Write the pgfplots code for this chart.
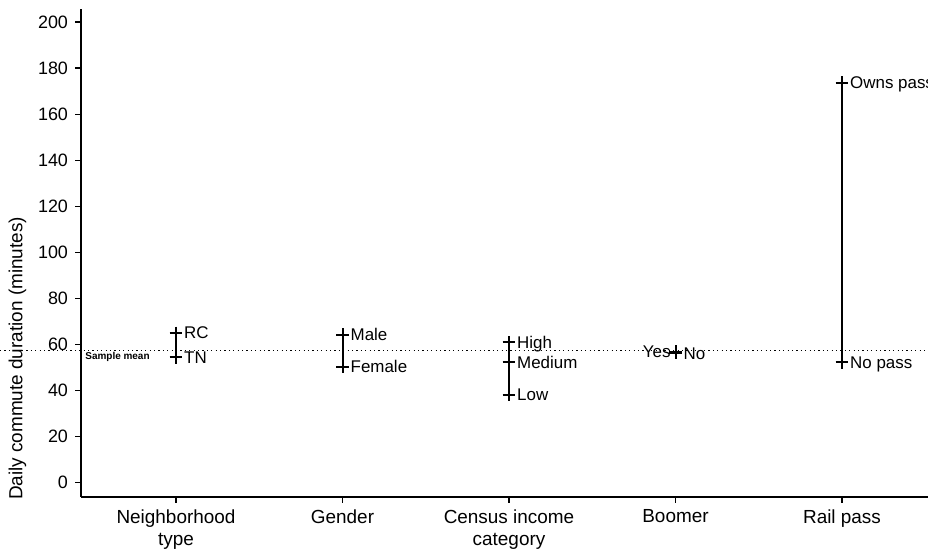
\documentclass[border=0pt]{standalone}
\usepackage{pgfplots}
\pgfplotsset{compat=1.18}
\usepackage{fontspec}
\setmainfont{Liberation Sans}
\begin{document}
\begin{tikzpicture}
\begin{axis}[
  scale only axis, width=423.5bp, height=243.7bp,
  xmin=0.4294, xmax=5.5165, ymin=-6.08, ymax=205.5,
  axis lines=left, axis line style={-, line width=0.8bp},
  xtick={1,2,3,4,5},
  xticklabels={Neighborhood\\type, Gender, Census income\\category, Boomer, Rail pass},
  x tick label style={align=center, font=\fontsize{9.5}{11}\selectfont},
  ytick={0,20,...,200},
  y tick label style={font=\fontsize{9}{10}\selectfont},
  /pgf/number format/assume math mode=true,
  tick align=outside, major tick length=3bp, tick style={black, line width=0.6bp},
  ylabel={Daily commute duration (minutes)},
  ylabel style={font=\fontsize{9.5}{11}\selectfont, at={(ticklabel cs:0.2836,2.5bp)}, anchor=south, inner sep=0pt, outer sep=0pt},
  clip=false,
  grp/.style={black, line width=1bp, mark=+, mark size=3.2bp, mark options={line width=1bp},
    nodes near coords, point meta=explicit symbolic,
    every node near coord/.append style={anchor=base west, inner sep=0pt, xshift=3.6bp, yshift=-3bp, font=\fontsize{8.5}{10}\selectfont}},
]
\coordinate (O) at (rel axis cs:0,0);
\addplot[black, line width=0.45bp, dash pattern=on 0.6bp off 1.6bp] coordinates {(-0.057,57.3) (5.5165,57.3)};
\node[anchor=west, inner sep=0pt, font=\fontsize{5}{6}\selectfont\bfseries] at (axis cs:0.4294,54.6) [xshift=2bp] {Sample mean};
\addplot[grp] coordinates {(1,54.5)[TN] (1,65)[RC]};
\addplot[grp] coordinates {(2,50.4)[Female] (2,64.2)[Male]};
\addplot[grp] coordinates {(3,38.1)[Low] (3,52.2)[Medium] (3,60.9)[High]};
\addplot[grp] coordinates {(4,56.3)[No]};
\addplot[grp, every node near coord/.append style={anchor=base east, xshift=-5.6bp}] coordinates {(4,56.8)[Yes]};
\addplot[grp] coordinates {(5,52.3)[No pass] (5,173.6)[Owns pass]};
\end{axis}
\pgfresetboundingbox
\path ([shift={(-40.5bp,-27.65bp)}]O) rectangle ([shift={(423.5bp,248.35bp)}]O);
\end{tikzpicture}
\end{document}
